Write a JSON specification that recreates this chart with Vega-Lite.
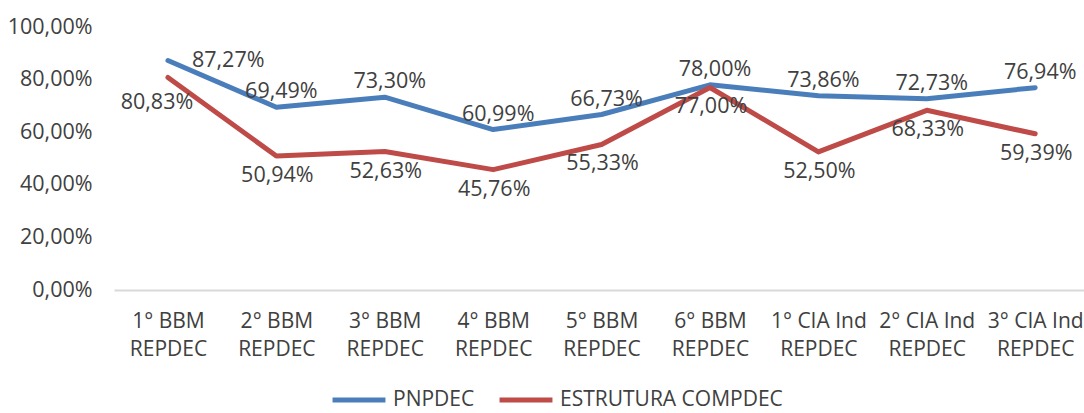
{
  "$schema": "https://vega.github.io/schema/vega-lite/v6.json",
  "width": 970,
  "height": 263,
  "autosize": "none",
  "padding": {"left": 114, "top": 27, "right": 0, "bottom": 123},
  "background": "white",
  "config": {
    "locale": {"number": {"decimal": ",", "thousands": ".", "grouping": [3], "currency": ["R$", ""]}},
    "view": {"stroke": null},
    "font": "Open Sans"
  },
  "data": {
    "values": [
      {"cat": "1° BBM REPDEC", "serie": "PNPDEC", "v": 0.8727},
      {"cat": "2° BBM REPDEC", "serie": "PNPDEC", "v": 0.6949},
      {"cat": "3° BBM REPDEC", "serie": "PNPDEC", "v": 0.7330},
      {"cat": "4° BBM REPDEC", "serie": "PNPDEC", "v": 0.6099},
      {"cat": "5° BBM REPDEC", "serie": "PNPDEC", "v": 0.6673},
      {"cat": "6° BBM REPDEC", "serie": "PNPDEC", "v": 0.7800},
      {"cat": "1° CIA Ind REPDEC", "serie": "PNPDEC", "v": 0.7386},
      {"cat": "2° CIA Ind REPDEC", "serie": "PNPDEC", "v": 0.7273},
      {"cat": "3° CIA Ind REPDEC", "serie": "PNPDEC", "v": 0.7694},
      {"cat": "1° BBM REPDEC", "serie": "ESTRUTURA COMPDEC", "v": 0.8083},
      {"cat": "2° BBM REPDEC", "serie": "ESTRUTURA COMPDEC", "v": 0.5094},
      {"cat": "3° BBM REPDEC", "serie": "ESTRUTURA COMPDEC", "v": 0.5263},
      {"cat": "4° BBM REPDEC", "serie": "ESTRUTURA COMPDEC", "v": 0.4576},
      {"cat": "5° BBM REPDEC", "serie": "ESTRUTURA COMPDEC", "v": 0.5533},
      {"cat": "6° BBM REPDEC", "serie": "ESTRUTURA COMPDEC", "v": 0.7700},
      {"cat": "1° CIA Ind REPDEC", "serie": "ESTRUTURA COMPDEC", "v": 0.5250},
      {"cat": "2° CIA Ind REPDEC", "serie": "ESTRUTURA COMPDEC", "v": 0.6833},
      {"cat": "3° CIA Ind REPDEC", "serie": "ESTRUTURA COMPDEC", "v": 0.5939}
    ]
  },
  "encoding": {
    "x": {
      "field": "cat", "type": "nominal", "sort": null,
      "scale": {"type": "point", "padding": 0.474, "align": 0.525},
      "axis": {
        "title": null, "labelAngle": 0, "ticks": false,
        "domainColor": "#d9d9d9", "domainWidth": 2,
        "labelFont": "Open Sans", "labelFontSize": 21, "labelColor": "#404040",
        "labelPadding": 20, "labelLineHeight": 28, "labelBaseline": "top",
        "labelExpr": "split(replace(datum.label, ' REPDEC', '|REPDEC'), '|')"
      }
    },
    "y": {
      "field": "v", "type": "quantitative",
      "scale": {"domain": [0, 1], "nice": false},
      "axis": {
        "title": null, "domain": false, "ticks": false, "grid": false,
        "values": [0, 0.2, 0.4, 0.6, 0.8, 1], "format": ".2%",
        "labelFont": "Open Sans", "labelFontSize": 21.5, "labelColor": "#404040",
        "labelPadding": 22
      }
    }
  },
  "layer": [
    {
      "mark": {"type": "line", "strokeWidth": 5, "strokeCap": "round", "strokeJoin": "round"},
      "encoding": {
        "color": {
          "field": "serie", "type": "nominal",
          "scale": {"domain": ["PNPDEC", "ESTRUTURA COMPDEC"], "range": ["#4A7EBB", "#BE4B48"]},
          "legend": {
            "title": null, "orient": "none", "direction": "horizontal",
            "legendX": 216, "legendY": 344,
            "symbolType": "stroke", "symbolSize": 2800, "symbolStrokeWidth": 5,
            "labelFont": "Open Sans", "labelFontSize": 21, "labelColor": "#404040",
            "labelOffset": 5, "columnPadding": 14, "labelLimit": 500
          }
        }
      }
    },
    {
      "transform": [{"filter": "datum.serie == 'PNPDEC' && datum.cat != '1° BBM REPDEC'"}],
      "mark": {"type": "text", "dy": -15, "dx": 5, "fontSize": 21.5, "font": "Open Sans", "color": "#404040"},
      "encoding": {"text": {"field": "v", "type": "quantitative", "format": ".2%"}}
    },
    {
      "transform": [{"filter": "datum.serie == 'PNPDEC' && datum.cat == '1° BBM REPDEC'"}],
      "mark": {"type": "text", "align": "left", "dx": 24, "dy": 1, "fontSize": 21.5, "font": "Open Sans", "color": "#404040"},
      "encoding": {"text": {"field": "v", "type": "quantitative", "format": ".2%"}}
    },
    {
      "transform": [{"filter": "datum.serie == 'ESTRUTURA COMPDEC' && datum.cat != '1° BBM REPDEC'"}],
      "mark": {"type": "text", "dy": 20, "dx": 1, "fontSize": 21.5, "font": "Open Sans", "color": "#404040"},
      "encoding": {"text": {"field": "v", "type": "quantitative", "format": ".2%"}}
    },
    {
      "transform": [{"filter": "datum.serie == 'ESTRUTURA COMPDEC' && datum.cat == '1° BBM REPDEC'"}],
      "mark": {"type": "text", "dy": 26, "dx": -11, "fontSize": 21.5, "font": "Open Sans", "color": "#404040"},
      "encoding": {"text": {"field": "v", "type": "quantitative", "format": ".2%"}}
    }
  ]
}
